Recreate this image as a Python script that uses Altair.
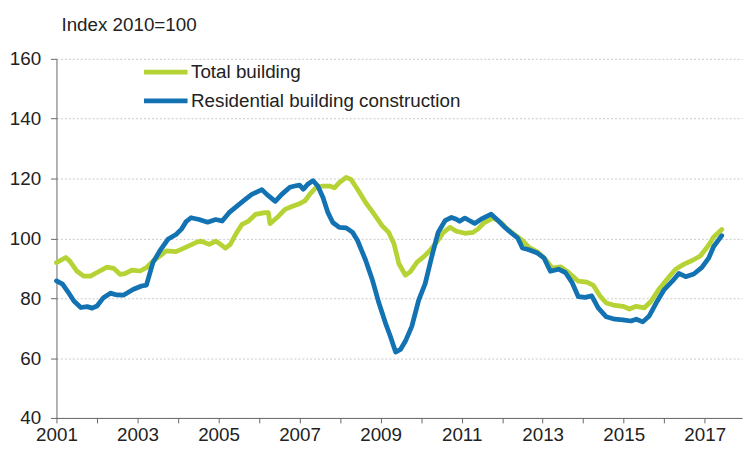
import altair as alt
import pandas as pd

# Total building index (decimal year, index value)
total_t = [2001.0, 2001.23, 2001.33, 2001.5, 2001.67, 2001.84, 2002.0, 2002.25, 2002.41, 2002.57,
           2002.69, 2002.86, 2003.06, 2003.22, 2003.38, 2003.55, 2003.71, 2003.95, 2004.2, 2004.44,
           2004.56, 2004.77, 2004.93, 2005.05, 2005.17, 2005.29, 2005.42, 2005.58, 2005.74, 2005.91,
           2006.15, 2006.23, 2006.27, 2006.48, 2006.64, 2006.84, 2007.0, 2007.13, 2007.25, 2007.41,
           2007.58, 2007.74, 2007.86, 2007.98, 2008.15, 2008.27, 2008.43, 2008.63, 2008.84, 2009.04,
           2009.2, 2009.33, 2009.45, 2009.61, 2009.73, 2009.9, 2010.06, 2010.22, 2010.38, 2010.55,
           2010.71, 2010.87, 2011.08, 2011.28, 2011.4, 2011.56, 2011.77, 2011.97, 2012.13, 2012.34,
           2012.5, 2012.66, 2012.87, 2013.07, 2013.23, 2013.44, 2013.64, 2013.88, 2014.09, 2014.25,
           2014.41, 2014.57, 2014.78, 2014.98, 2015.14, 2015.31, 2015.51, 2015.67, 2015.88, 2016.08,
           2016.28, 2016.49, 2016.69, 2016.89, 2017.1, 2017.22, 2017.42]
total_v = [91.9, 93.6, 92.4, 89.1, 87.4, 87.4, 88.6, 90.4, 90.0, 88.0,
           88.2, 89.4, 89.1, 90.2, 92.4, 94.1, 95.8, 95.6, 97.1, 98.6,
           99.1, 98.0, 99.1, 98.0, 96.7, 98.0, 101.3, 104.7, 105.8, 108.0,
           108.6, 108.6, 104.9, 107.4, 109.7, 110.8, 111.6, 112.5, 114.7, 117.1,
           117.5, 117.5, 116.9, 118.6, 120.4, 119.7, 116.4, 112.0, 108.1, 104.2,
           102.0, 98.2, 91.6, 87.7, 88.8, 92.1, 93.8, 96.0, 98.7, 102.0,
           103.7, 102.4, 101.7, 102.0, 103.1, 105.3, 106.8, 105.3, 103.1, 100.9,
           99.3, 97.0, 95.5, 93.0, 90.1, 90.5, 88.6, 85.7, 85.4, 84.3,
           80.8, 78.4, 77.6, 77.3, 76.4, 77.3, 76.8, 78.9, 83.2, 86.5,
           89.7, 91.4, 92.6, 94.1, 97.8, 100.5, 103.0]

# Residential building construction index
resid_t = [2001.0, 2001.15, 2001.27, 2001.43, 2001.6, 2001.76, 2001.88, 2002.0, 2002.16, 2002.33,
           2002.49, 2002.65, 2002.9, 2003.1, 2003.22, 2003.38, 2003.55, 2003.75, 2003.95, 2004.08,
           2004.2, 2004.32, 2004.52, 2004.73, 2004.93, 2005.09, 2005.26, 2005.5, 2005.66, 2005.82,
           2006.07, 2006.19, 2006.4, 2006.56, 2006.76, 2006.88, 2007.0, 2007.09, 2007.21, 2007.33,
           2007.45, 2007.58, 2007.7, 2007.82, 2007.98, 2008.15, 2008.31, 2008.43, 2008.63, 2008.8,
           2008.96, 2009.12, 2009.24, 2009.37, 2009.49, 2009.61, 2009.77, 2009.94, 2010.1, 2010.26,
           2010.42, 2010.59, 2010.75, 2010.87, 2010.95, 2011.08, 2011.2, 2011.32, 2011.48, 2011.73,
           2011.89, 2012.05, 2012.21, 2012.38, 2012.5, 2012.66, 2012.87, 2013.03, 2013.19, 2013.39,
           2013.56, 2013.72, 2013.88, 2014.05, 2014.21, 2014.37, 2014.57, 2014.78, 2014.98, 2015.18,
           2015.31, 2015.47, 2015.63, 2015.8, 2016.0, 2016.2, 2016.36, 2016.53, 2016.73, 2016.93,
           2017.1, 2017.22, 2017.42]
resid_v = [85.8, 84.7, 82.4, 79.1, 76.9, 77.2, 76.7, 77.4, 80.2, 81.7,
           81.1, 81.0, 83.0, 84.1, 84.4, 91.9, 95.8, 99.7, 101.3, 103.0,
           105.6, 106.9, 106.3, 105.4, 106.3, 105.8, 108.6, 111.3, 113.0, 114.7,
           116.3, 114.7, 112.4, 114.7, 117.1, 117.5, 117.8, 116.4, 118.2, 119.3,
           117.5, 113.6, 108.6, 105.3, 103.7, 103.5, 102.0, 99.3, 92.7, 86.0,
           78.3, 71.7, 67.3, 62.0, 62.9, 65.6, 70.6, 79.4, 84.9, 93.8,
           102.0, 105.9, 107.0, 106.4, 105.7, 106.8, 105.9, 105.0, 106.4, 108.1,
           106.1, 103.9, 102.0, 100.2, 96.8, 96.2, 95.1, 93.5, 89.0, 89.7,
           88.6, 85.4, 80.5, 80.3, 80.8, 76.8, 73.8, 73.0, 72.8, 72.4,
           73.0, 72.1, 74.1, 78.4, 82.9, 85.7, 88.3, 87.2, 88.1, 90.3,
           93.5, 97.3, 100.9]

series_names = ["Total building", "Residential building construction"]
series_colors = ["#B5D334", "#1272B2"]
year_ticks = list(range(2001, 2018))
y_ticks = [40, 60, 80, 100, 120, 140, 160]

df = pd.concat([
    pd.DataFrame({"t": total_t, "v": total_v, "s": series_names[0], "o": 0}),
    pd.DataFrame({"t": resid_t, "v": resid_v, "s": series_names[1], "o": 1}),
])

FONT = "Liberation Sans"
FS = 19

chart = alt.Chart(df).mark_line(strokeWidth=4.8, strokeCap="round", strokeJoin="round").encode(
    x=alt.X("t:Q",
            scale=alt.Scale(domain=[2001, 2017.92], nice=False, zero=False),
            axis=alt.Axis(values=year_ticks, format="d", title=None, grid=False,
                          labelExpr="datum.value % 2 == 1 ? datum.label : ''",
                          tickSize=5, labelPadding=3, labelFlush=False,
                          domainColor="#666666", tickColor="#666666")),
    y=alt.Y("v:Q",
            scale=alt.Scale(domain=[40, 160], nice=False, zero=False),
            axis=alt.Axis(values=y_ticks, title=None, grid=True,
                          gridColor="#C8C8C8", gridDash=[2, 2], gridWidth=1,
                          tickSize=6, labelPadding=10,
                          domainColor="#666666", tickColor="#666666")),
    color=alt.Color("s:N",
                    scale=alt.Scale(domain=series_names, range=series_colors),
                    legend=alt.Legend(title=None, orient="none", legendX=97, legendY=0,
                                      symbolType="M-2,0H2", symbolSize=484,
                                      symbolStrokeWidth=4.8, labelOffset=12,
                                      rowPadding=5, padding=0,
                                      labelFontSize=FS, labelFont=FONT,
                                      labelColor="#222222", labelLimit=400)),
    order="o:Q",
).properties(
    width=693,
    height=363,
    padding={"left": 49, "top": 49, "right": 2, "bottom": 28},
    autosize=alt.AutoSizeParams(type="none"),
    title=alt.TitleParams("Index 2010=100", anchor="start", frame="group", dx=5, offset=15,
                          fontSize=FS, font=FONT, fontWeight="normal", color="#222222"),
).configure_axis(
    labelFont=FONT, labelFontSize=FS, labelColor="#222222"
).configure_view(stroke=None)

chart.save("out.html", embed_options={"renderer": "svg", "actions": False})
